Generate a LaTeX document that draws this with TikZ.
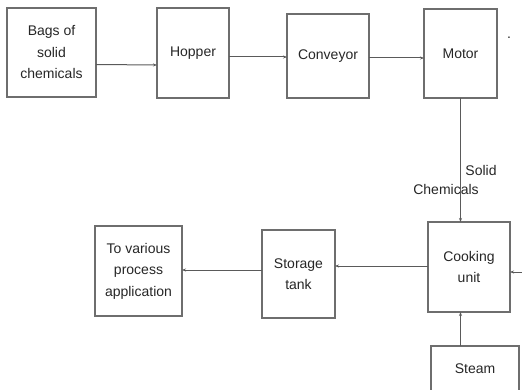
\documentclass[tikz,border=0pt]{standalone}
\usepackage{fontspec}
\setmainfont{Liberation Sans}
\usetikzlibrary{arrows.meta}
\definecolor{boxgray}{HTML}{6E6E6E}
\definecolor{linegray}{HTML}{5A5A5A}
\begin{document}
\begin{tikzpicture}[x=1pt, y=-1pt, inner sep=0, outer sep=0,
    block/.style={rectangle, draw=boxgray, line width=1.2pt, align=center,
      font=\fontsize{14}{21.5}\selectfont, text=black!85},
    flow/.style={draw=linegray, line width=1pt, -{Stealth[length=4pt, width=3pt]}},
    lbl/.style={font=\fontsize{14}{16}\selectfont, text=black!85}]
  \useasboundingbox (0,0) rectangle (522,390);

  % top row
  \node[block, minimum width=89pt, minimum height=89pt] (bags) at (51.5, 52.5) {Bags of\\solid\\chemicals};
  \node[block, minimum width=72pt, minimum height=90pt] (hopper) at (193, 53) {Hopper};
  \node[block, minimum width=82pt, minimum height=84pt] (conveyor) at (328, 56) {Conveyor};
  \node[block, minimum width=73pt, minimum height=89pt] (motor) at (460.5, 53.5) {Motor};
  \node[lbl] (dot) at (509, 38) {.};

  % bottom row
  \node[block, minimum width=82pt, minimum height=90pt] (cooking) at (469, 267) {Cooking\\unit};
  \node[block, minimum width=73pt, minimum height=88pt] (storage) at (298.5, 274) {Storage\\tank};
  \node[block, minimum width=87pt, minimum height=90pt] (various) at (138.5, 271) {To various\\process\\application};
  \node[block, minimum width=88pt, minimum height=46pt] (steam) at (475, 369) {Steam};

  \node[lbl] (solid) at (481, 170) {Solid};
  \node[lbl] (chem) at (446, 189) {Chemicals};
  \coordinate (inflow) at (522, 272);

  \draw[flow] ([yshift=-12pt]bags.east) -- ([yshift=-12pt]hopper.west);
  \draw[flow] ([yshift=-4pt]hopper.east) -- ([yshift=-4pt]hopper.east -| conveyor.west);
  \draw[flow] ([yshift=-2pt]conveyor.east) -- ([yshift=-2pt]conveyor.east -| motor.west);
  \draw[flow] (motor.south) -- (motor.south |- cooking.north);
  \draw[flow] (cooking.west |- 0,266) -- (storage.east |- 0,266);
  \draw[flow] (storage.west |- 0,270) -- (various.east |- 0,270);
  \draw[flow] (steam.north -| motor.south) -- (cooking.south -| motor.south);
  \draw[flow] (inflow) -- (inflow -| cooking.east);
\end{tikzpicture}
\end{document}
